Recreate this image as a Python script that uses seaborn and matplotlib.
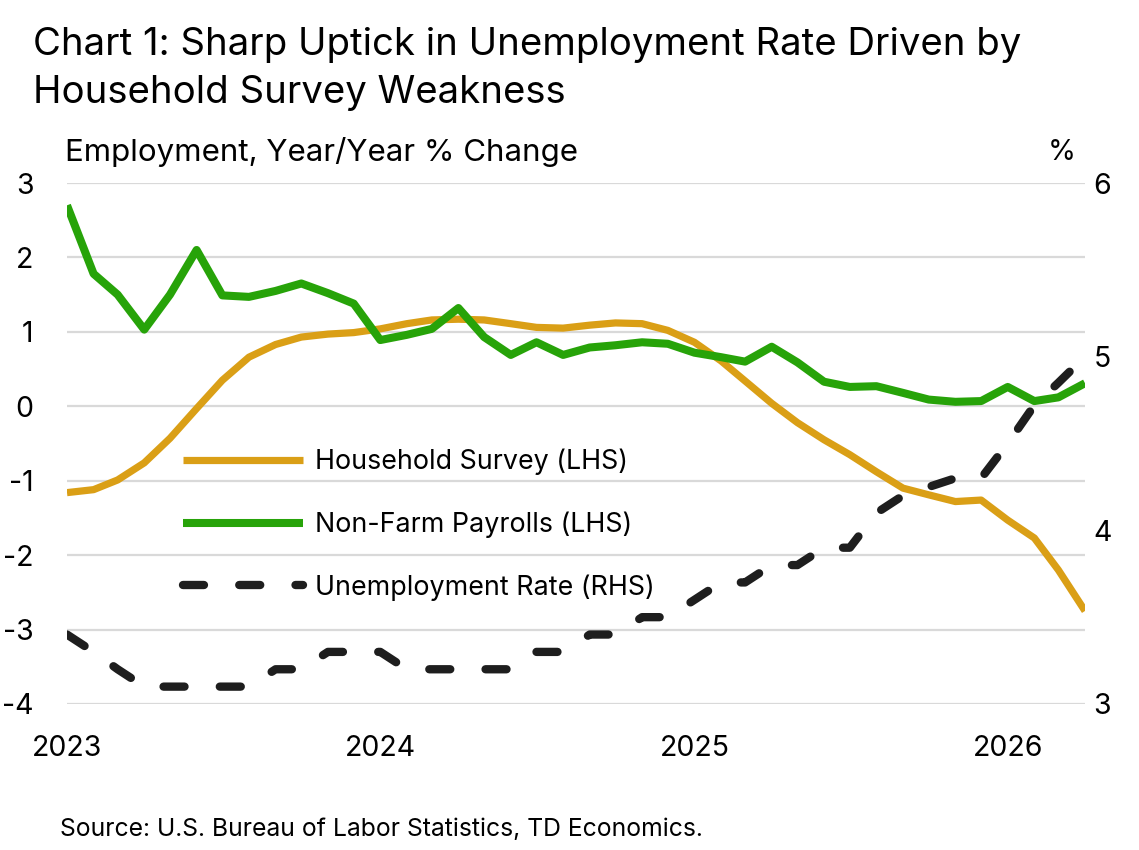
import pandas as pd
import numpy as np
import seaborn as sns
import matplotlib.pyplot as plt

# =========================
# Data (monthly, Jan 2023 - Apr 2026)
# =========================
months = pd.date_range("2023-01-01", periods=40, freq="MS")

household = [-1.16, -1.12, -0.99, -0.76, -0.43, -0.03, 0.35, 0.66, 0.83, 0.93,
             0.97, 0.99, 1.04, 1.11, 1.16, 1.17, 1.16, 1.11, 1.06, 1.05,
             1.09, 1.12, 1.11, 1.02, 0.86, 0.61, 0.34, 0.04, -0.22, -0.45,
             -0.65, -0.88, -1.10, -1.19, -1.28, -1.26, -1.53, -1.77, -2.20, -2.75]

payrolls = [2.70, 1.78, 1.50, 1.03, 1.50, 2.10, 1.49, 1.47, 1.55, 1.65,
            1.52, 1.38, 0.89, 0.96, 1.04, 1.32, 0.93, 0.69, 0.86, 0.69,
            0.79, 0.82, 0.86, 0.84, 0.72, 0.66, 0.60, 0.80, 0.59, 0.33,
            0.26, 0.27, 0.18, 0.09, 0.06, 0.07, 0.26, 0.07, 0.12, 0.31]

unemployment = [3.4, 3.3, 3.2, 3.1, 3.1, 3.1, 3.1, 3.1, 3.2, 3.2,
                3.3, 3.3, 3.3, 3.2, 3.2, 3.2, 3.2, 3.2, 3.3, 3.3,
                3.4, 3.4, 3.5, 3.5, 3.6, 3.7, 3.7, 3.8, 3.8, 3.9,
                3.9, 4.1, 4.2, 4.25, 4.3, 4.3, 4.5, 4.72, 4.85, 5.0]

series_labels = ["Household Survey (LHS)", "Non-Farm Payrolls (LHS)", "Unemployment Rate (RHS)"]
year_ticks = ["2023", "2024", "2025", "2026"]

df = pd.DataFrame({"date": months, "household": household,
                   "payrolls": payrolls, "unemployment": unemployment})

ORANGE = "#DA9F16"
GREEN = "#27A309"
BLACK = "#1E1E1E"
GRID = "#D9D9D9"

# =========================
# Style
# =========================
sns.set_theme(style="white")
plt.rcParams["font.family"] = ["Inter", "DejaVu Sans"]
plt.rcParams["text.color"] = "black"
plt.rcParams["axes.unicode_minus"] = False
plt.rcParams["lines.scale_dashes"] = False

W, H = 1139, 850
fig = plt.figure(figsize=(W / 100, H / 100), dpi=100)
ax = fig.add_axes([67 / W, 1 - 704 / H, (1085 - 67) / W, (704 - 183) / H])

# =========================
# Plot
# =========================
sns.lineplot(data=df, x="date", y="household", ax=ax, color=ORANGE, lw=5.2,
             label=series_labels[0], solid_capstyle="butt")
sns.lineplot(data=df, x="date", y="payrolls", ax=ax, color=GREEN, lw=5.8,
             label=series_labels[1], solid_capstyle="butt")

ax2 = ax.twinx()
sns.lineplot(data=df, x="date", y="unemployment", ax=ax2, color=BLACK, lw=6,
             linestyle=(0, (15.1, 25.4)), dash_capstyle="round",
             label=series_labels[2])

# axes limits / ticks
ax.set_xlim(months[0], months[-1])
ax.set_ylim(-4, 3)
ax.set_yticks(range(-4, 4))
ax2.set_ylim(3, 6)
ax2.set_yticks([3, 4, 5, 6])
ax.set_xticks(pd.to_datetime([y + "-01-01" for y in year_ticks]))
ax.set_xticklabels(year_ticks)

ax.set_xlabel("")
ax.set_ylabel("")
ax2.set_ylabel("")

ax.yaxis.grid(True, color=GRID, lw=1.6)
ax.xaxis.grid(False)
ax.set_axisbelow(True)
for a in (ax, ax2):
    for s in a.spines.values():
        s.set_visible(False)

ax.tick_params(axis="y", length=0, pad=24, labelsize=20.5, labelcolor="black")
ax.tick_params(axis="x", length=0, pad=22, labelsize=20.5, labelcolor="black")
ax2.tick_params(axis="y", length=0, pad=6, labelsize=20.5, labelcolor="black")

# legend
h1, l1 = ax.get_legend_handles_labels()
h2, l2 = ax2.get_legend_handles_labels()
ax.get_legend().remove()
ax2.legend(h1 + h2, l1 + l2, loc="upper left", bbox_to_anchor=(0.114, 0.49),
           frameon=False, fontsize=19.3, handlelength=4.48, handletextpad=0.45,
           labelspacing=1.35, borderpad=0, borderaxespad=0)

# texts
fig.text(33 / W, 1 - 45 / H, "Chart 1: Sharp Uptick in Unemployment Rate Driven by",
         fontsize=27.6, va="center", ha="left")
fig.text(33 / W, 1 - 93 / H, "Household Survey Weakness",
         fontsize=27.6, va="center", ha="left")
fig.text(65 / W, 1 - 152 / H, "Employment, Year/Year % Change",
         fontsize=22.5, va="center", ha="left")
fig.text(1076 / W, 1 - 152 / H, "%", fontsize=20.5, va="center", ha="right")
fig.text(60 / W, 1 - 830 / H, "Source: U.S. Bureau of Labor Statistics, TD Economics.",
         fontsize=17.8, va="center", ha="left")

plt.savefig("out.png", dpi=100)
plt.close()
